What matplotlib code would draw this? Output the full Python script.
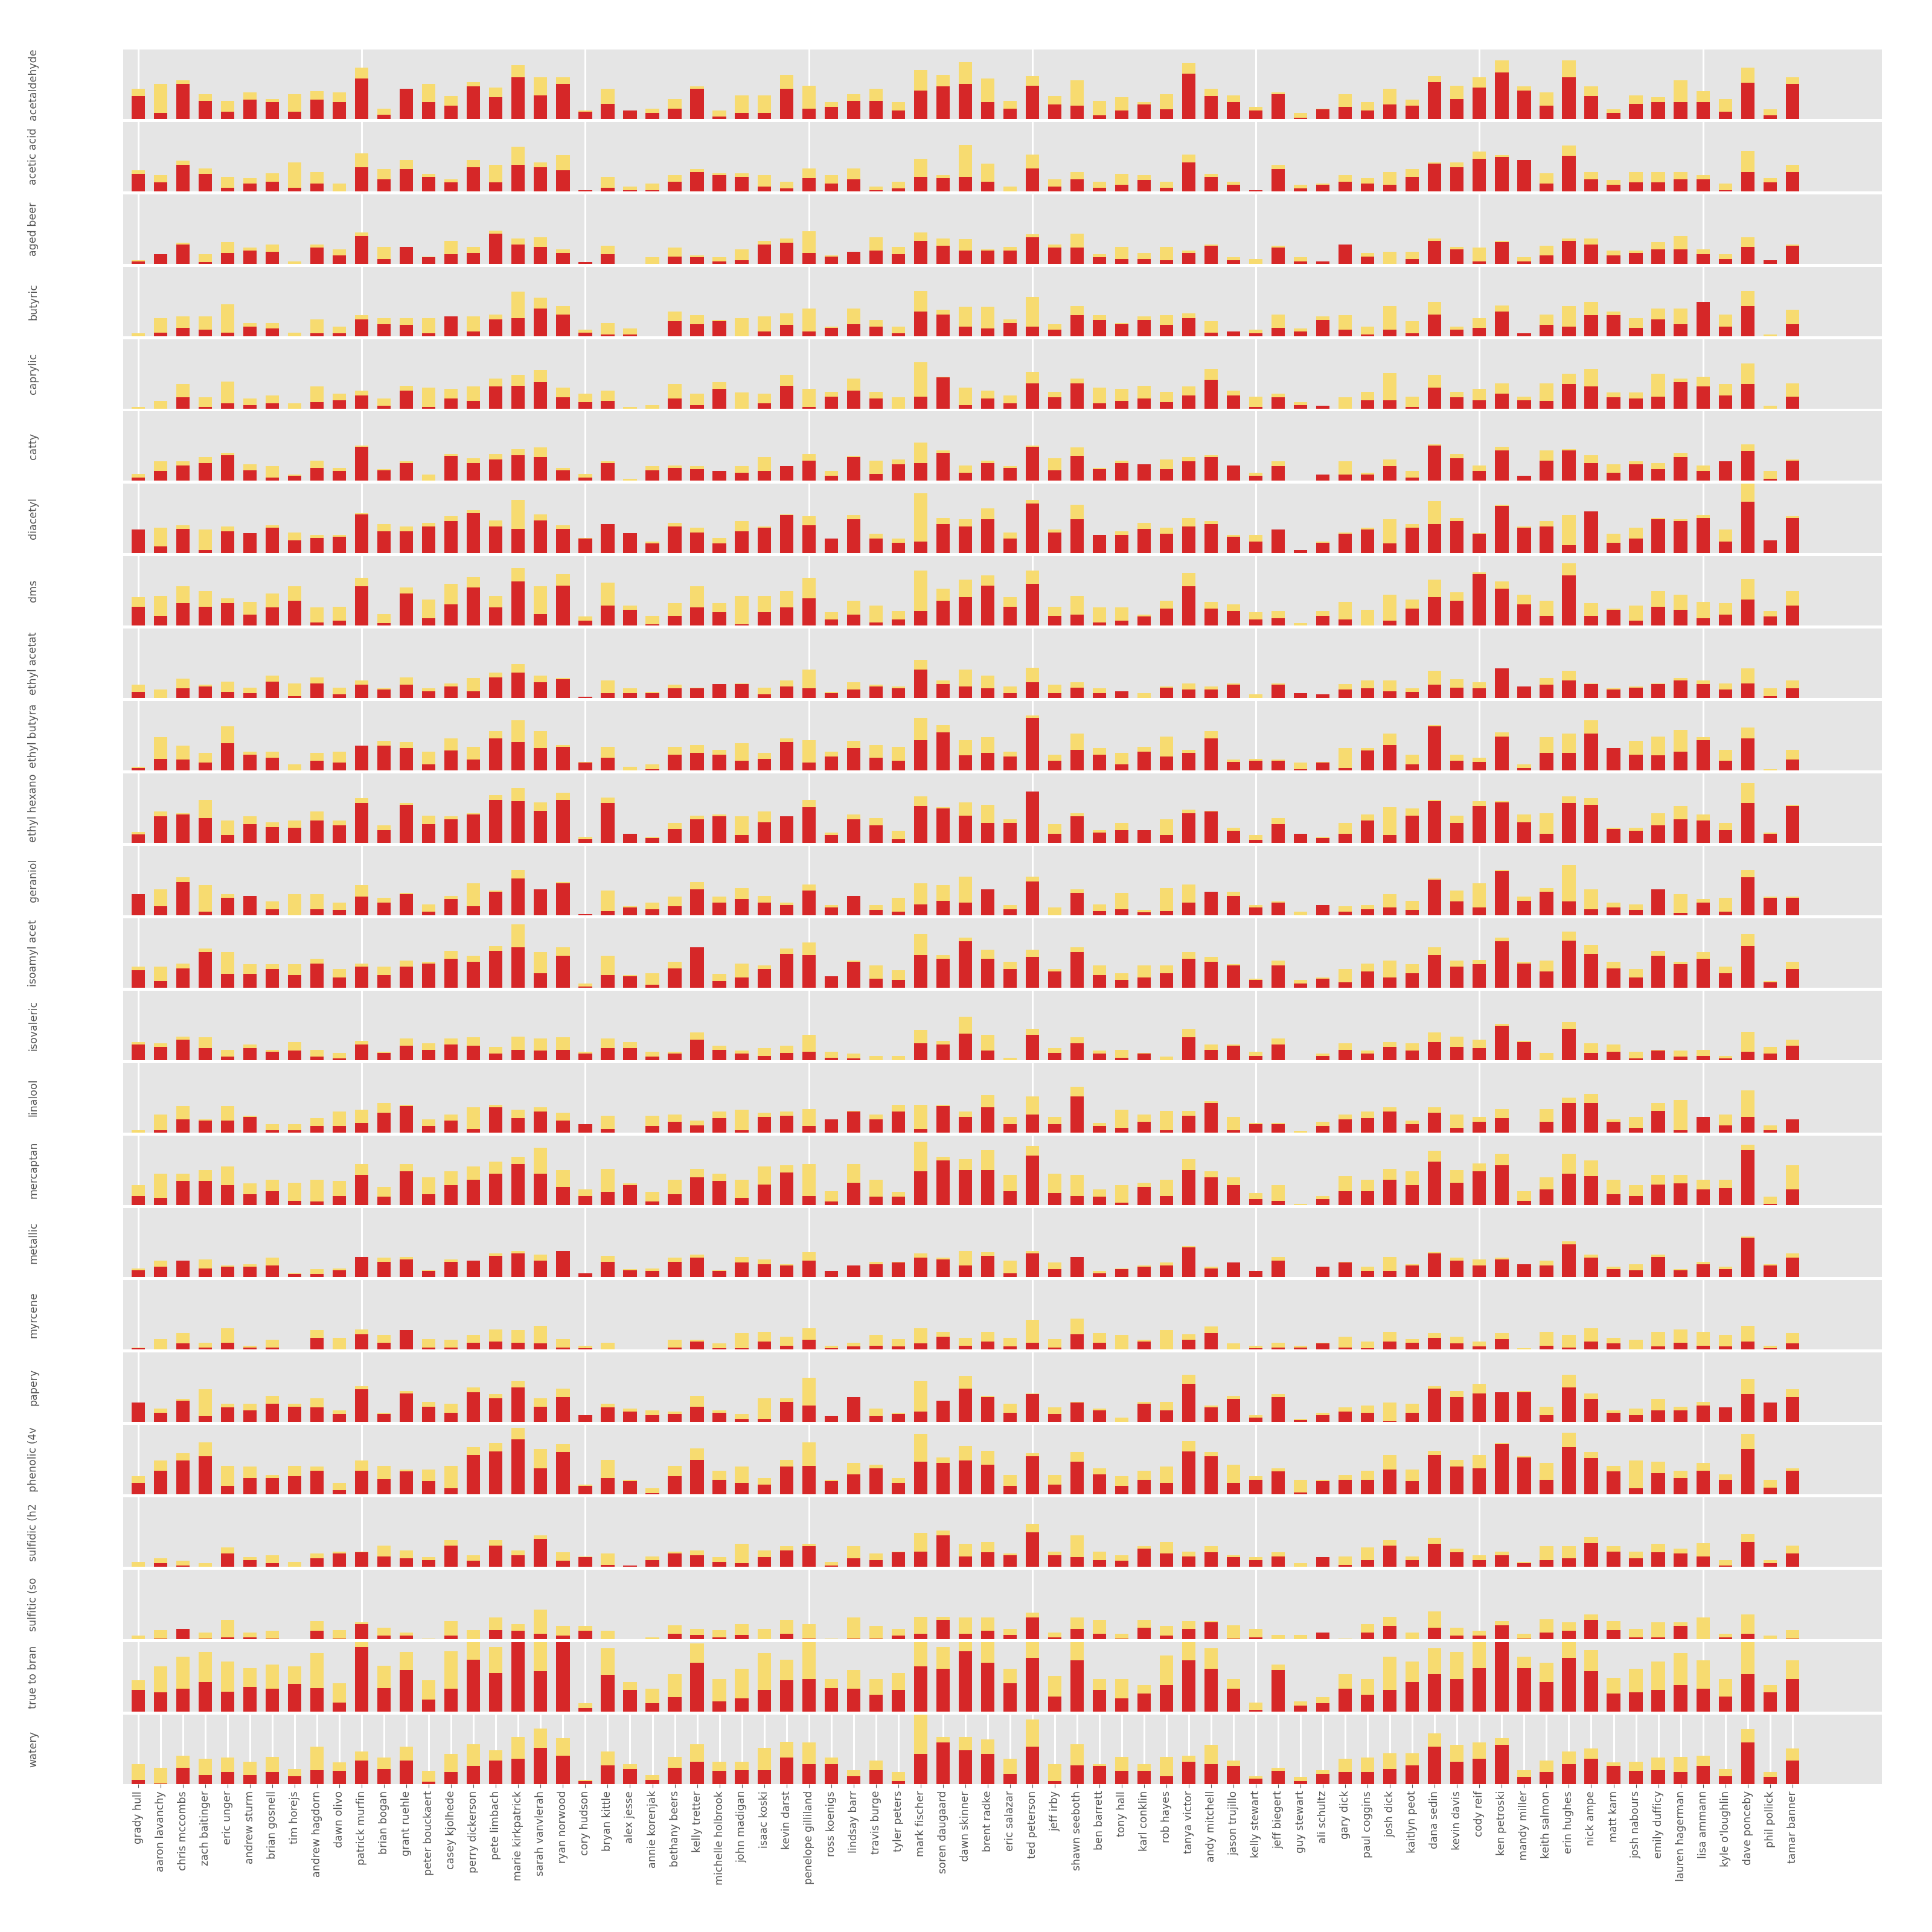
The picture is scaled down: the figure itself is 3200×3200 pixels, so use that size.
import numpy as np
import matplotlib
matplotlib.use("Agg")
import matplotlib.pyplot as plt

people = ["grady hull", "aaron lavanchy", "chris mccombs", "zach baitinger", "eric unger",
          "andrew sturm", "brian gosnell", "tim horejs", "andrew hagdorn", "dawn olivo",
          "patrick murfin", "brian bogan", "grant ruehle", "peter bouckaert", "casey kjolhede",
          "perry dickerson", "pete limbach", "marie kirkpatrick", "sarah vanvlerah", "ryan norwood",
          "cory hudson", "bryan kittle", "alex jesse", "annie korenjak", "bethany beers",
          "kelly tretter", "michelle holbrook", "john madigan", "isaac koski", "kevin darst",
          "penelope gilliland", "ross koenigs", "lindsay barr", "travis burge", "tyler peters",
          "mark fischer", "soren daugaard", "dawn skinner", "brent radke", "eric salazar",
          "ted peterson", "jeff irby", "shawn seeboth", "ben barrett", "tony hall",
          "karl conklin", "rob hayes", "tanya victor", "andy mitchell", "jason trujillo",
          "kelly stewart", "jeff biegert", "guy stewart", "ali schultz", "gary dick",
          "paul coggins", "josh dick", "kaitlyn peot", "dana sedin", "kevin davis",
          "cody reif", "ken petroski", "mandy miller", "keith salmon", "erin hughes",
          "nick ampe", "matt karn", "josh nabours", "emily dufficy", "lauren hagerman",
          "lisa ammann", "kyle o'loughlin", "dave ponceby", "phil pollick", "tamar banner"]

attributes = ["acetaldehyde", "acetic acid", "aged beer", "butyric", "caprylic", "catty",
              "diacetyl", "dms", "ethyl acetat", "ethyl butyra", "ethyl hexano", "geraniol",
              "isoamyl acet", "isovaleric", "linalool", "mercaptan", "metallic", "myrcene",
              "papery", "phenolic (4v", "sulfidic (h2", "sulfitic (so", "true to bran", "watery"]

# red = front bar value, yellow = back bar value (same axis scale)
acetaldehyde_red = [3.3,0.9,5.0,2.6,1.0,2.8,2.4,1.0,2.8,2.4, 5.8,0.6,4.3,2.4,1.9,4.7,3.1,6.0,3.4,5.0, 1.0,2.2,1.2,0.9,1.5,4.3,0.3,0.9,0.9,4.3, 1.5,1.7,2.6,2.6,1.2,4.1,4.7,5.0,2.4,1.5, 4.8,2.1,1.9,0.5,1.2,2.1,1.4,6.5,3.3,2.4, 1.2,3.6,0.2,1.4,1.7,1.2,2.1,1.9,5.3,2.9, 4.5,6.7,4.1,1.9,6.0,3.3,0.9,2.2,2.4,2.4, 2.4,1.0,5.2,0.5,5.0]
acetaldehyde_yellow = [4.3,5.0,5.6,3.6,2.6,3.8,2.9,3.6,4.0,3.8, 7.4,1.5,4.3,5.0,3.3,5.3,4.5,7.7,6.0,6.0, 1.2,4.3,1.2,1.5,2.9,4.7,1.2,3.4,3.4,6.3, 4.8,2.4,3.6,4.3,2.4,7.0,6.3,8.2,5.8,2.6, 6.2,3.3,5.6,2.6,3.1,2.4,3.6,8.1,4.3,3.4, 1.7,3.8,0.9,1.5,3.6,2.4,4.3,2.8,6.2,4.8, 6.0,8.4,4.7,3.8,8.4,4.7,1.4,3.4,3.1,5.6, 4.0,2.9,7.4,1.4,6.0]

acetic_red = [2.5,1.3,3.8,2.5,0.5,1.1,1.4,0.5,1.1,0, 3.5,1.7,3.2,2.1,1.3,3.5,1.3,3.8,3.5,3.0, 0.2,0.5,0.2,0.2,1.4,2.8,2.3,2.1,0.7,0.4, 1.9,1.1,1.7,0.2,0.4,2.1,1.9,2.1,1.4,0, 3.3,0.7,1.7,0.5,0.9,1.6,0.5,4.2,2.1,0.9, 0.2,3.2,0.4,0.9,1.4,1.1,0.9,2.1,4.0,3.5, 4.7,4.9,4.5,1.1,5.1,1.7,0.9,1.3,1.3,1.7, 1.7,0.2,2.8,1.3,2.8]
acetic_yellow = [3.0,2.3,4.4,3.3,2.1,1.9,2.6,4.2,2.8,1.1, 5.5,3.2,4.5,2.5,1.7,4.5,3.8,6.4,4.2,5.2, 0.2,2.1,0.7,1.1,2.3,3.2,2.6,2.6,2.3,1.4, 3.3,2.3,3.3,0.7,1.4,4.7,2.3,6.7,4.0,0.7, 5.3,1.7,2.8,1.4,2.5,2.3,1.4,5.3,2.5,1.4, 0.2,3.8,0.9,1.1,2.3,1.9,2.8,3.2,4.2,4.2, 5.7,5.2,4.5,2.6,6.6,2.8,1.6,2.8,2.8,2.8, 2.3,1.1,5.8,1.9,3.8]

aged_red = [0.3,1.4,2.8,0.2,1.5,1.9,1.7,0,2.3,1.2, 4.0,0.7,2.4,0.9,1.4,1.5,4.3,2.8,2.4,1.5, 0.2,1.4,0,0,1.0,0.9,0.3,0.5,2.8,3.0, 1.5,1.0,1.7,1.9,1.4,3.3,2.6,1.9,1.9,1.9, 3.8,2.3,2.3,0.9,0.7,0.7,0.5,1.5,2.6,0.5, 0,2.3,0.3,0.3,2.8,1.0,0,0.7,3.3,2.1, 0.3,3.1,0.3,1.2,3.3,2.8,1.2,1.5,2.1,2.1, 1.4,0.7,2.4,0.5,2.6]
aged_yellow = [0.5,1.4,3.0,1.4,3.1,2.3,2.8,0.3,2.8,2.1, 4.5,2.4,2.4,1.0,3.3,2.4,4.8,3.6,3.8,2.1, 0.2,2.6,0,0.9,2.3,1.2,0.9,2.1,3.3,3.6, 4.7,1.2,1.7,3.8,2.4,4.5,3.6,3.5,2.1,2.4, 4.2,2.8,4.3,1.4,2.4,1.5,2.4,1.9,2.8,0.9, 0.7,2.6,0.9,0.3,2.8,1.5,1.7,1.7,3.6,2.4, 2.3,3.3,0.9,2.6,3.6,3.6,1.9,1.9,3.1,4.0, 2.1,1.4,3.8,0.5,2.8]

butyric_red = [0,0.5,1.2,0.9,0.5,1.4,1.1,0,0.4,0.4, 2.4,1.7,1.6,0.4,2.8,0.7,2.4,2.6,4.0,3.1, 0.5,0.2,0.2,0,2.1,1.7,2.1,0,0.7,1.6, 0.7,1.2,1.7,1.4,0.4,3.5,3.1,1.4,1.1,1.9, 1.4,0.9,3.0,2.3,1.7,2.3,1.6,2.6,0.5,0.7, 0.4,1.2,0.7,2.3,0.9,0.2,0.9,0.4,3.1,0.9, 1.2,3.5,0.4,1.6,1.4,3.0,3.0,1.2,2.4,1.7, 4.9,1.4,4.3,0,1.7]
butyric_yellow = [0.4,2.6,2.8,2.8,4.6,1.9,1.9,0.5,2.4,1.4, 3.0,2.6,2.6,2.6,2.8,2.8,3.1,6.4,5.5,4.3, 0.9,1.9,1.1,0,3.5,3.0,2.3,2.6,2.8,3.3, 4.0,1.4,4.0,2.3,1.4,6.5,3.8,4.2,4.2,2.4, 5.6,1.7,4.3,3.0,1.9,2.8,3.0,3.3,2.1,0.7, 0.9,3.1,1.1,2.8,3.0,1.4,4.3,2.1,4.9,1.4, 2.6,4.4,0.4,3.1,4.3,4.9,3.5,2.6,4.0,4.0, 4.9,3.1,6.5,0.2,3.8]

caprylic_red = [0,0,1.6,0.2,0.7,0.5,0.7,0,0.9,1.2, 1.9,0.4,2.6,0.2,1.4,1.1,3.2,3.3,3.8,1.6, 0.9,1.1,0,0,1.4,0.5,2.8,0,0.7,3.3, 0.2,1.7,2.6,1.4,0,1.7,4.5,0.5,1.4,0.7, 3.6,1.6,3.6,0.7,1.1,1.4,0.9,1.9,4.1,1.9, 0.2,1.6,0.5,0.4,0,1.2,1.2,0.2,3.0,1.6, 1.2,2.1,1.2,1.1,3.5,3.2,1.6,1.4,1.7,3.8, 3.2,1.9,3.5,0,1.7]
caprylic_yellow = [0.2,1.1,3.5,1.6,3.9,1.4,1.9,0.7,3.2,2.1, 2.6,1.4,3.3,3.0,2.8,3.2,4.3,4.8,5.5,3.0, 2.1,2.6,0.2,0.5,3.5,2.1,3.8,2.3,2.1,4.8, 2.8,2.4,4.3,2.4,1.6,6.7,4.6,3.0,2.6,1.9, 5.3,2.4,4.3,3.0,2.8,3.3,2.4,3.2,5.7,2.6, 1.7,2.1,0.9,0.4,1.6,2.4,5.1,1.7,4.8,2.4, 2.8,3.6,1.7,3.6,5.0,5.7,2.3,2.3,5.0,4.3, 4.6,3.5,6.5,0.4,3.6]

catty_red = [0.5,1.4,2.2,2.6,3.7,1.5,0.5,0.7,1.9,1.4, 4.9,1.5,2.6,0,3.6,2.6,3.1,3.7,3.4,1.5, 0.5,2.6,0,1.5,1.9,1.7,1.4,1.2,1.4,2.1, 2.9,0.7,3.4,1.0,2.4,2.6,4.0,1.2,2.6,1.9, 4.9,1.5,3.6,1.7,2.6,2.4,1.7,2.8,3.4,2.2, 0.7,2.1,0,0.9,0.9,0.9,2.1,0.5,5.1,3.3, 1.4,4.4,0.7,2.9,4.4,2.6,1.2,2.4,1.7,3.4, 1.4,2.8,4.3,0.3,2.9]
catty_yellow = [1.0,2.8,2.8,3.4,4.0,2.4,2.1,0.9,2.9,1.9, 5.1,1.7,2.8,0.9,3.9,3.3,3.9,4.6,4.8,1.9, 1.0,2.8,0.3,2.1,2.2,2.1,1.4,2.1,3.4,2.1, 3.9,1.4,3.6,2.9,3.1,5.5,4.4,2.2,2.9,2.1, 5.1,3.3,4.8,1.9,2.9,2.4,3.1,3.4,3.7,2.2, 1.2,2.8,0,0.9,2.8,1.2,3.1,1.4,5.3,3.9, 2.2,4.9,0.7,4.4,4.6,3.7,2.4,2.8,2.6,4.0, 2.2,2.8,5.3,1.4,3.1]

diacetyl_red = [3.4,1.0,3.5,0.5,3.2,2.9,3.7,1.9,2.2,2.4, 5.6,3.2,3.2,3.9,4.6,5.8,3.9,3.5,4.7,3.5, 2.1,4.2,2.9,1.4,3.9,3.0,1.4,3.2,3.7,5.5, 4.0,2.1,4.9,2.1,1.5,1.7,4.2,3.9,4.9,2.1, 7.2,3.0,4.9,2.6,2.6,3.5,2.8,3.9,4.2,2.4, 1.7,3.4,0.5,1.5,2.8,3.4,1.4,3.7,4.2,4.6, 2.8,6.8,3.7,3.9,1.2,6.0,1.5,2.1,4.9,4.6, 5.1,1.7,7.4,1.9,5.1]
diacetyl_yellow = [3.4,3.7,4.0,3.4,3.9,2.9,4.0,3.0,2.6,2.6, 5.8,4.2,3.9,4.4,5.3,6.2,4.7,7.7,5.6,4.0, 2.2,4.2,2.9,1.7,4.4,3.7,2.2,4.6,3.9,5.6, 5.3,2.1,5.5,2.8,2.1,8.6,5.1,4.9,6.5,3.0, 7.7,3.4,7.0,2.6,3.2,4.4,3.7,5.1,4.6,2.6, 2.6,3.4,0.5,1.7,3.0,3.7,4.9,4.2,7.5,5.1, 2.9,7.0,3.9,4.6,5.5,6.0,2.8,3.7,5.1,4.9, 5.5,3.4,10.3,1.9,5.3]

dms_red = [2.7,1.4,3.2,2.7,3.2,1.6,2.6,3.6,0.5,0.7, 5.7,0.4,4.6,1.1,3.1,5.5,2.6,6.4,1.7,5.8, 0.7,2.9,2.3,0.2,1.4,2.6,1.9,0.2,1.9,2.6, 3.9,0.9,1.6,0.5,0.9,2.1,3.6,4.1,5.8,2.7, 6.0,1.4,1.6,0.5,0.7,1.3,2.5,5.7,2.5,2.1, 0.9,1.1,0,1.4,0.9,0,0.7,2.5,4.1,3.6, 7.4,5.3,3.1,1.4,7.2,1.4,2.3,0.7,2.7,2.3, 1.1,1.6,3.8,1.3,2.9]
dms_yellow = [4.1,4.3,5.7,5.0,3.9,3.4,4.6,5.7,2.6,2.7, 6.9,1.7,5.5,3.8,6.0,7.0,4.3,8.3,5.7,7.4, 1.3,6.2,2.9,1.4,3.2,5.7,3.2,4.3,4.3,5.0, 6.9,1.9,3.6,2.9,2.1,7.9,5.3,6.6,7.2,4.1, 7.9,2.7,4.3,2.6,2.6,1.6,3.6,7.6,3.4,3.1, 1.9,2.1,0.4,2.1,3.4,2.3,4.5,3.8,6.6,4.8, 7.7,6.4,4.5,3.6,9.0,3.2,2.5,2.9,5.0,4.5, 3.4,3.2,6.7,2.1,5.0]

ethyl_acetate_red = [0.9,0,1.4,1.7,0.9,0.7,2.4,0.3,2.1,0.5, 1.9,1.2,1.9,1.0,1.7,1.0,3.0,3.7,2.3,2.7, 0.2,0.7,0.7,0.7,1.4,1.4,2.0,2.0,0.5,1.7, 1.4,0.7,1.2,1.7,1.4,4.1,2.0,1.7,1.4,0.7, 2.3,0.7,1.5,0.7,1.0,0,1.5,1.2,1.2,1.9, 0,1.9,0.7,0.5,1.2,1.4,1.0,0.9,1.9,1.5, 1.4,4.3,1.7,1.9,2.5,2.0,1.2,1.5,2.0,2.5, 2.0,1.2,2.1,0.3,1.4]
ethyl_acetate_yellow = [1.9,1.2,2.8,1.9,2.4,1.5,3.2,2.1,3.0,1.5, 2.5,1.4,3.0,1.4,2.1,2.9,3.7,4.9,3.2,2.9, 0.2,2.5,1.4,0.9,1.9,1.5,2.0,2.1,1.5,2.5, 4.1,0.9,2.3,1.9,1.7,5.5,2.5,4.1,3.2,1.7, 4.4,1.9,2.3,1.4,1.0,0.7,1.7,2.1,1.7,2.1, 0.5,2.1,0.7,0.5,2.0,2.5,2.5,1.4,3.9,2.7, 2.3,4.3,1.7,2.9,3.9,2.1,1.4,1.7,2.1,2.9, 2.5,2.1,4.3,1.4,2.5]

ethyl_butyrate_red = [0.4,1.7,1.6,1.1,3.9,2.3,1.8,0,1.4,1.1, 3.6,3.6,3.2,0.9,2.9,1.6,4.6,4.1,3.2,3.4, 1.1,1.8,0,0.2,2.3,2.5,2.3,1.4,1.7,4.1, 1.1,2.0,3.2,1.8,1.4,4.4,5.5,2.2,2.5,2.0, 7.6,1.4,3.0,2.3,0.9,2.7,2.0,2.5,4.6,1.2, 1.4,1.4,0.2,1.1,0.4,2.9,3.7,0.9,6.4,1.4, 1.2,4.9,0.4,2.5,2.5,5.3,3.2,2.3,2.2,2.7, 4.4,1.4,4.6,0,1.6]
ethyl_butyrate_yellow = [0.5,4.8,3.6,2.5,6.4,2.7,2.7,0.9,2.5,2.7, 3.6,4.3,4.1,2.7,4.6,3.4,5.7,7.2,5.7,3.7, 1.2,3.4,0.5,0.9,3.4,3.7,3.0,3.9,2.5,4.6, 4.4,2.7,4.3,3.7,3.4,7.6,6.5,4.4,4.8,2.7, 7.9,2.3,5.3,3.2,2.5,3.4,4.9,3.0,5.7,1.6, 1.7,1.6,1.1,1.2,3.2,3.2,5.3,2.3,6.5,2.3, 1.8,5.5,0.9,4.8,5.3,7.2,3.2,4.3,4.9,5.8, 4.8,3.0,6.2,0.2,3.0]

ethyl_hexanoate_red = [1.2,3.8,4.1,3.6,1.1,2.7,2.3,2.2,3.2,2.5, 5.7,1.8,5.5,2.7,3.4,4.1,6.2,6.0,4.6,6.2, 0.5,5.7,1.3,0.7,2.0,3.4,3.8,1.1,3.0,3.8, 5.1,1.1,3.4,2.5,0.5,5.3,5.0,3.9,2.9,2.9, 7.4,1.3,3.8,1.5,1.8,1.8,1.1,4.3,4.5,1.7, 0.4,2.7,1.3,0.7,1.3,3.2,1.1,3.9,6.0,2.9, 5.3,5.8,3.0,1.3,5.7,5.5,2.0,1.7,2.5,3.4, 3.2,1.8,5.7,1.3,5.3]
ethyl_hexanoate_yellow = [1.6,4.5,4.3,6.2,3.2,3.8,3.0,3.2,4.5,3.2, 6.4,2.5,5.7,3.9,3.8,4.3,6.9,7.9,5.8,7.2, 0.9,6.5,1.3,0.9,2.9,3.9,4.1,3.8,4.5,3.8, 6.2,1.5,4.1,3.6,1.7,6.7,5.1,5.8,5.5,3.4, 7.4,2.7,4.3,1.8,2.9,1.8,3.4,4.8,4.6,2.2, 1.1,3.6,1.3,0.9,2.9,4.1,5.1,5.0,6.2,3.9, 6.0,6.0,4.1,4.3,6.7,6.4,2.2,2.2,4.3,5.3, 4.1,2.9,8.6,1.5,5.5]

geraniol_red = [3.0,1.3,4.8,0.5,2.5,2.8,0.9,0,0.9,0.8, 2.7,1.8,3.0,0.5,2.3,1.3,3.4,5.3,3.7,4.6, 0.2,0.6,1.1,0.9,1.3,3.7,1.8,2.3,1.8,1.5, 3.6,1.1,2.8,0.8,0.5,1.6,2.1,1.8,3.7,0.9, 4.9,0,3.2,0.6,0.9,0.4,0.6,1.8,3.4,2.8, 1.1,1.8,0,1.5,0.5,0.9,1.1,0.8,5.1,2.0, 1.1,6.3,2.1,3.4,2.0,0.9,1.1,0.8,3.7,0.3, 1.8,0.5,5.5,2.5,2.5]
geraniol_yellow = [3.0,3.7,5.5,4.3,3.0,2.8,2.0,3.0,3.0,1.8, 4.3,2.5,3.2,1.6,2.8,4.6,3.6,6.5,3.7,4.8, 0.2,3.6,1.3,1.8,2.7,4.8,2.7,3.9,2.8,1.8, 4.4,1.5,2.8,1.5,2.5,4.6,4.3,5.6,3.7,1.5, 5.6,1.1,3.7,1.6,3.2,0.8,3.9,4.4,3.4,3.4, 1.5,2.0,0.5,1.5,1.3,1.5,3.0,2.1,5.3,3.6, 4.6,6.5,2.7,3.9,7.2,3.7,1.8,1.6,3.7,3.0, 2.3,2.5,6.5,2.7,2.7]

isoamyl_red = [2.5,0.9,2.8,5.1,2.0,2.0,2.7,1.8,3.5,1.5, 3.0,1.8,3.0,3.5,4.2,3.7,5.3,5.8,2.1,4.6, 0.2,1.8,1.6,0.4,2.8,5.8,0.9,1.5,2.7,4.9, 4.7,1.6,3.7,1.3,1.1,4.7,4.2,6.7,4.2,2.7, 4.4,2.3,5.1,1.8,1.1,1.5,2.1,4.2,3.7,3.2, 1.1,3.2,0.6,1.3,0.8,2.3,1.5,2.1,4.7,3.0, 3.4,6.7,3.5,2.3,6.8,4.9,2.8,1.5,4.6,3.4, 4.2,2.1,6.0,0.8,2.7]
isoamyl_yellow = [3.0,3.0,3.5,5.6,5.1,3.4,3.4,3.4,4.2,2.7, 3.5,3.0,3.9,3.7,5.3,4.6,6.0,9.1,5.1,5.8, 0.6,4.6,1.8,2.1,3.7,5.8,2.0,3.5,3.2,5.6, 6.5,1.6,3.9,3.2,2.5,7.7,4.7,7.2,5.5,3.7, 5.5,2.7,5.8,3.2,2.1,3.2,3.2,5.1,4.4,3.4, 1.3,3.9,1.1,1.5,2.7,3.5,3.9,3.4,5.8,3.9, 4.0,7.2,3.7,3.9,8.1,6.2,3.7,2.7,5.3,3.7, 5.1,3.0,7.7,0.9,3.7]

isovaleric_red = [2.2,1.9,2.9,1.7,0.5,1.7,1.2,1.4,0.5,0.2, 2.2,1.0,2.1,1.5,2.2,2.1,0.9,1.5,1.4,1.5, 0.9,1.7,1.7,0.5,0.9,2.9,1.5,0.9,0.6,1.0, 1.2,0.3,0.2,0,0,2.4,2.2,3.8,1.4,0, 3.6,1.0,2.4,0.9,0.3,0.9,0,3.3,1.5,2.1, 0.6,2.2,0,0.6,1.5,0.9,1.9,1.4,2.6,1.9, 1.7,4.9,2.6,0,4.5,1.0,1.2,0.2,1.4,0.5, 0.6,0.2,1.2,0.9,2.1]
isovaleric_yellow = [2.6,2.4,3.4,3.3,1.5,2.2,1.5,2.6,1.5,1.0, 2.8,1.2,3.1,2.4,3.1,3.3,1.9,3.4,3.1,3.3, 1.2,3.1,2.6,1.2,1.2,4.0,2.1,1.4,1.7,2.1, 3.6,1.2,0.9,0.6,0.6,4.3,2.8,6.2,3.6,0.3, 4.5,1.7,3.3,1.4,1.5,1.0,0.5,4.5,2.2,2.2, 1.2,3.1,0,0.9,2.4,1.4,2.6,2.4,4.0,3.4, 2.9,5.2,2.8,1.0,5.5,2.4,2.2,1.2,1.5,1.4, 1.5,0.6,4.1,1.9,2.9]

linalool_red = [0,0.3,1.9,1.7,1.7,2.2,0.3,0.3,0.9,0.9, 1.4,2.8,3.8,0.9,1.7,0.5,3.6,2.1,3.0,1.7, 1.2,0.5,0,0.9,1.5,1.0,2.1,0.3,2.2,2.4, 0.9,1.9,3.0,1.9,3.0,0.5,3.8,2.2,3.6,1.2, 2.6,1.2,5.2,0.9,0.7,1.5,0.3,2.4,4.2,0.3, 1.2,1.2,0,0.9,1.9,2.1,3.0,1.2,2.8,0.7, 1.5,2.1,0,1.5,4.2,4.2,1.5,0.7,3.1,0.3, 2.2,1.0,2.2,0.3,1.9]
linalool_yellow = [0.3,2.6,3.8,1.9,3.8,2.4,1.2,1.2,2.1,3.0, 3.3,4.2,4.0,1.9,2.6,3.6,4.0,3.3,3.6,2.8, 1.2,2.4,0,2.4,2.6,1.7,3.0,3.3,2.8,3.0, 3.4,1.9,3.1,2.6,4.0,4.0,4.0,3.0,5.4,2.2, 5.2,2.2,6.6,1.4,3.3,2.6,3.1,3.1,4.5,2.2, 1.4,1.4,0.2,1.5,2.6,3.0,3.6,1.7,3.6,2.6, 2.2,3.4,0,3.4,5.0,5.5,1.9,2.2,4.2,4.7, 2.2,2.6,6.1,1.0,1.9]

mercaptan_red = [1.3,1.0,3.4,3.4,2.8,1.5,2.0,0.6,0.5,1.3, 4.3,1.2,4.8,1.5,2.8,3.6,4.5,5.9,4.5,2.6, 1.3,1.9,2.8,0.5,1.5,4.0,3.4,1.0,2.9,4.7, 1.3,0.5,3.2,1.2,1.2,4.8,6.4,5.0,5.0,2.0, 7.1,1.7,1.3,1.2,0.3,2.6,1.3,5.0,4.0,2.8, 0.8,0.6,0,0.8,2.0,2.0,3.6,2.8,6.2,3.2, 4.8,5.7,0.6,2.2,4.5,4.1,1.5,1.3,2.9,3.1, 2.2,2.4,7.9,0.1,2.2]
mercaptan_yellow = [2.8,4.5,4.5,5.0,5.5,3.1,3.6,3.2,3.6,3.4, 5.9,2.6,5.9,4.0,4.8,5.5,6.2,6.9,8.2,5.0, 2.2,5.2,3.1,1.9,3.6,5.2,4.5,3.6,5.5,5.7, 5.9,2.0,5.9,3.6,1.9,9.1,6.9,6.6,7.9,4.3, 8.5,4.5,4.3,2.2,2.8,3.2,3.6,6.6,4.8,4.0, 1.7,2.8,0.1,1.3,4.1,3.6,5.2,4.8,7.8,5.0, 6.0,7.4,2.0,4.0,7.4,6.4,3.6,2.8,4.3,4.3, 3.6,3.6,8.7,1.2,5.7]

metallic_red = [1.0,1.5,2.4,1.3,1.5,1.5,1.7,0.5,0.5,1.0, 2.9,2.2,2.6,0.9,2.2,2.4,3.1,3.4,2.4,3.8, 0.6,2.2,1.0,0.9,2.2,2.8,0.9,2.1,1.9,1.7, 2.4,0.9,1.7,1.9,2.1,2.8,2.6,1.7,3.1,0.6, 3.4,1.2,2.9,0.6,1.2,1.5,1.7,4.3,1.3,2.1, 0.9,2.4,0,1.5,2.1,0.9,0.9,1.7,3.4,2.4, 1.7,2.6,1.9,1.7,4.7,2.8,1.2,1.0,2.9,1.0, 1.9,1.2,5.7,1.7,2.8]
metallic_yellow = [1.3,2.4,2.4,2.6,1.7,1.9,2.8,0.6,1.2,1.3, 2.9,2.8,2.9,1.0,2.6,2.4,3.4,3.8,3.3,3.8, 0.6,3.1,1.2,1.3,2.8,3.3,1.0,2.9,2.6,1.9, 3.6,0.9,1.7,2.2,2.2,3.4,2.8,3.8,3.6,2.4, 3.8,2.1,2.9,0.9,1.3,1.7,2.1,4.5,1.5,2.1, 0.9,2.9,0,1.5,2.2,1.5,2.9,1.9,3.6,2.8, 2.6,2.8,1.9,2.4,5.2,3.3,1.5,1.9,3.3,1.2, 2.2,1.5,5.9,1.9,3.4]

myrcene_red = [0.2,0,0.9,0.3,1.0,0.3,0.3,0,1.7,0, 2.2,1.0,2.8,0.3,0.3,1.0,1.2,1.0,0.9,0.3, 0.2,0,0,0,0.3,1.2,0.2,0.2,1.2,0.6, 1.4,0.2,0.5,0.6,0.5,0.9,1.9,0.6,1.2,0.5, 1.0,0.3,2.2,1.0,0,1.2,0,1.4,2.4,0, 0.2,0.3,0.3,0.9,0.3,0.2,1.2,1.0,1.7,0.9, 0.5,1.5,0,0.6,0.3,1.2,0.9,0,0.5,1.0, 0.6,0.5,1.2,0.2,0.9]
myrcene_yellow = [0.3,1.5,2.4,1.0,3.1,0.6,1.4,0,2.8,1.7, 2.9,2.1,2.8,1.5,1.4,2.1,2.9,2.8,3.4,1.5, 0.6,1.0,0,0,1.4,1.4,0.9,2.4,2.6,1.9, 3.1,0.6,1.0,2.1,1.5,3.1,2.6,1.7,2.6,1.7, 4.3,1.5,4.5,2.4,2.1,1.4,2.8,2.2,3.3,0.9, 0.6,1.0,0.6,1.0,1.9,1.2,2.6,1.5,2.4,1.9, 1.2,2.4,0.2,2.6,2.1,3.1,1.7,1.4,2.6,2.9, 2.6,2.1,3.4,0.6,2.4]

papery_red = [2.8,1.3,3.1,0.9,2.1,1.7,2.6,2.2,2.1,1.2, 4.7,1.2,4.1,2.2,1.3,4.3,3.4,5.0,2.2,3.6, 1.0,2.1,1.5,1.0,1.2,2.2,1.3,0.5,0.5,2.9, 2.4,0.9,3.6,0.9,1.2,1.5,3.1,4.8,3.6,1.3, 4.0,1.2,2.8,1.7,0,2.6,1.7,5.5,2.1,3.3, 0.6,3.6,0.3,1.0,1.5,1.3,0.1,1.3,4.8,3.6, 4.1,4.3,4.3,1.0,5.0,3.3,1.3,1.0,1.7,1.7, 2.4,2.1,4.0,2.8,3.6]
papery_yellow = [2.8,1.9,3.3,4.7,2.6,2.6,3.8,2.6,3.4,1.7, 5.2,1.3,4.5,2.9,2.6,5.0,4.0,5.9,3.4,4.8, 1.0,2.6,1.9,1.7,1.5,3.8,1.7,1.2,3.4,3.4, 6.4,0.9,3.6,1.9,1.3,5.9,3.1,6.6,3.8,2.6, 4.1,2.1,2.9,1.9,0.6,2.9,2.9,6.8,2.4,3.8, 1.0,4.0,0.5,1.3,2.1,2.4,2.8,2.6,5.2,4.5, 5.5,4.3,4.5,2.2,6.8,4.1,1.7,1.9,3.3,2.2, 2.9,2.1,6.2,2.8,4.7]

phenolic_red = [1.7,3.4,4.9,5.5,1.2,2.4,2.4,2.6,3.4,0.6, 3.4,2.2,3.3,1.9,0.9,5.7,6.2,7.9,3.8,6.1, 1.2,2.4,1.9,0.2,2.6,5.0,2.1,1.7,1.4,4.0, 4.1,1.9,2.9,3.8,1.7,4.7,4.5,4.9,4.3,1.2, 5.5,1.4,4.7,2.9,1.2,2.1,1.7,6.2,5.5,1.7, 2.1,3.3,0.3,1.9,2.1,2.1,3.6,1.9,5.7,4.0, 3.8,7.2,5.3,2.1,6.8,5.2,3.3,0.9,3.1,2.4, 3.4,2.1,6.5,1.0,3.4]
phenolic_yellow = [2.6,4.9,5.9,7.5,4.1,4.0,2.8,4.1,4.0,1.7, 4.9,4.1,3.6,3.6,4.1,6.8,7.4,9.6,6.5,7.2, 1.4,5.0,2.1,0.9,4.1,6.6,3.4,4.0,2.4,5.0, 7.5,2.1,4.5,4.3,2.4,8.7,5.3,7.0,6.3,2.8, 5.9,2.8,6.1,3.8,2.6,3.4,4.0,7.7,6.1,4.3, 2.6,3.8,2.1,2.1,2.8,3.4,5.7,3.6,6.3,5.0, 5.7,7.4,5.5,4.5,8.9,6.1,4.1,4.9,4.7,3.4, 4.5,2.9,8.7,2.1,3.8]

sulfidic_red = [0,0.5,0.2,0,1.9,1.0,0.5,0,1.2,1.9, 2.1,1.5,1.2,1.0,3.1,0.9,3.1,1.7,4.0,0.9, 1.4,0.3,0.2,1.0,1.9,1.7,0.7,0.5,1.4,2.4, 3.0,0.2,1.2,1.0,2.1,2.2,4.5,1.5,2.1,1.7, 5.0,1.7,1.4,1.0,0.9,2.6,1.9,1.5,2.1,1.4, 1.0,1.5,0,1.4,0.3,1.0,3.1,1.0,3.3,2.1, 1.0,1.7,0.5,1.0,1.2,3.4,2.2,1.2,2.1,1.9, 1.5,0.2,3.6,0.5,1.9]
sulfidic_yellow = [0.7,1.2,0.9,0.5,2.8,1.4,1.7,0.7,1.9,2.2, 2.2,3.1,2.4,1.4,3.8,1.7,3.8,2.4,4.5,2.1, 1.5,1.9,0.2,1.5,2.2,2.4,1.4,3.3,2.4,3.0, 3.3,0.7,3.0,1.9,2.2,4.9,5.2,3.3,3.6,1.9, 6.2,2.2,4.5,2.2,1.7,3.0,3.6,2.2,3.0,1.7, 1.4,2.1,0.5,1.4,1.5,2.8,3.8,1.5,4.2,2.6, 1.7,2.2,0.7,3.0,3.0,4.3,3.0,2.2,3.3,2.6, 3.4,1.0,4.7,1.0,3.1]

sulfitic_red = [0,0.1,1.5,0.1,0.3,0.3,0.1,0,1.2,0.1, 2.2,0.5,0.5,0,0.5,0,1.3,1.2,0.8,0.5, 1.2,0,0,0,0.8,0.6,0.3,0.6,0,0.8, 0.1,0,0.1,0.1,0.5,0.8,2.8,0.8,1.2,0.6, 3.1,0.3,1.5,0.8,0.1,1.7,0.5,1.5,2.4,0.1, 0.3,0,0,1.0,0,1.0,1.9,0,1.7,0.5, 0.5,2.0,0.1,1.0,1.2,2.8,1.3,0.3,0.3,1.9, 0,0.3,0.8,0,0.1]
sulfitic_yellow = [0.5,1.3,1.5,1.0,2.8,1.0,1.2,0,2.6,1.3, 2.4,1.7,1.0,0.1,2.6,1.3,3.1,2.2,4.3,1.9, 1.9,1.2,0,0.3,2.0,1.5,1.3,2.2,1.5,2.8, 2.2,0.1,3.1,1.9,1.5,3.2,3.2,3.1,3.1,1.5, 3.8,1.0,3.1,2.8,0.8,2.8,1.9,2.6,2.6,2.0, 1.5,0.6,0.6,1.0,0.1,2.2,3.2,1.0,4.0,1.7, 1.2,2.6,0.8,2.9,2.4,3.6,2.6,1.5,2.4,2.4, 3.1,0.8,3.6,0.5,1.3]

true_to_brand_red = [3.1,2.8,3.3,4.3,2.9,3.6,3.3,4.0,3.4,1.3, 9.3,3.4,6.0,1.7,3.3,7.5,5.6,10.8,5.8,10.4, 0.5,5.3,3.1,1.2,2.1,7.0,1.5,1.9,3.1,4.5, 4.7,3.4,3.3,2.4,3.1,6.5,6.2,8.7,7.0,4.1, 7.7,2.2,7.4,3.1,1.9,2.6,3.8,7.4,6.2,3.3, 0.3,6.0,0.9,1.2,3.3,2.4,3.1,4.3,5.4,4.7, 6.3,10.5,6.3,4.3,7.7,5.8,2.6,2.8,3.1,3.8, 3.3,2.2,5.4,2.8,4.7]
true_to_brand_yellow = [4.5,6.5,7.9,8.6,7.2,6.3,6.8,6.5,8.4,4.1, 10.3,6.6,8.6,4.5,8.7,10.6,9.3,11.5,10.8,10.4, 1.2,9.1,4.3,3.3,5.4,9.8,4.7,6.2,8.4,7.5, 10.4,4.7,6.0,4.7,5.6,10.6,9.3,10.5,10.6,6.2, 10.4,5.1,10.3,4.7,4.7,3.8,8.1,10.4,9.1,4.7, 1.3,6.8,1.5,2.1,5.4,4.7,7.9,7.2,9.1,8.6, 10.4,10.5,7.9,7.0,10.3,8.9,4.9,6.2,7.2,8.4, 7.4,4.7,10.6,3.8,7.4]

watery_red = [0.6,0.1,2.3,1.3,1.7,1.3,1.7,1.1,2.0,1.9, 3.4,2.2,3.4,0.3,1.7,2.6,3.4,3.6,5.2,4.1, 0.4,2.7,2.2,0.6,2.3,3.2,1.9,2.0,2.0,3.8, 2.9,2.9,1.1,2.0,0.4,4.3,6.0,4.9,4.3,1.5, 5.4,0.4,2.7,2.6,1.9,1.9,1.1,3.2,2.9,2.6, 0.8,1.9,0.4,1.5,1.7,1.7,2.2,2.7,5.4,3.2, 3.6,5.6,1.0,1.7,2.9,3.6,2.6,1.9,2.0,1.7, 2.6,1.1,6.0,1.0,3.4]
watery_yellow = [2.9,2.3,4.1,3.6,3.8,3.2,3.9,2.2,5.4,3.1, 4.7,3.8,5.4,1.9,4.3,5.7,4.9,6.8,8.0,6.6, 0.6,4.7,2.9,1.3,3.9,5.7,3.2,3.2,5.2,6.1, 6.0,3.8,2.0,3.4,1.7,10.3,6.8,6.8,6.4,3.6, 9.3,2.9,5.7,2.9,3.9,2.9,3.9,4.1,5.6,3.4, 1.1,2.3,1.0,2.0,3.6,3.8,4.4,4.4,7.3,5.6, 6.0,6.6,2.0,3.4,4.7,5.1,3.1,3.2,3.8,3.9, 4.1,2.2,7.9,1.7,5.1]

red_series = [acetaldehyde_red, acetic_red, aged_red, butyric_red, caprylic_red, catty_red,
              diacetyl_red, dms_red, ethyl_acetate_red, ethyl_butyrate_red, ethyl_hexanoate_red,
              geraniol_red, isoamyl_red, isovaleric_red, linalool_red, mercaptan_red, metallic_red,
              myrcene_red, papery_red, phenolic_red, sulfidic_red, sulfitic_red, true_to_brand_red,
              watery_red]
yellow_series = [acetaldehyde_yellow, acetic_yellow, aged_yellow, butyric_yellow, caprylic_yellow,
                 catty_yellow, diacetyl_yellow, dms_yellow, ethyl_acetate_yellow,
                 ethyl_butyrate_yellow, ethyl_hexanoate_yellow, geraniol_yellow, isoamyl_yellow,
                 isovaleric_yellow, linalool_yellow, mercaptan_yellow, metallic_yellow,
                 myrcene_yellow, papery_yellow, phenolic_yellow, sulfidic_yellow, sulfitic_yellow,
                 true_to_brand_yellow, watery_yellow]

RED = "#d62728"
YELLOW = "#f7db70"
GREY = "#555555"

plt.style.use("ggplot")
plt.rcParams["font.family"] = ["DejaVu Sans"]

fig, axes = plt.subplots(len(attributes), 1, figsize=(32, 32), dpi=100)
fig.subplots_adjust(left=0.0638, right=0.974, top=0.9744, bottom=0.0766, hspace=0.043)

n = len(people)
for i, (ax, name, rv, yv) in enumerate(zip(axes, attributes, red_series, yellow_series)):
    rv = np.asarray(rv, dtype=float)
    yv = np.asarray(yv, dtype=float)
    ax.bar(np.arange(len(yv)), yv, width=0.6, color=YELLOW, linewidth=0, zorder=2)
    ax.bar(np.arange(len(rv)), rv, width=0.6, color=RED, linewidth=0, zorder=3)
    ax.set_facecolor("#e5e5e5")
    ax.set_ylim(0, 10)
    ax.set_xlim(-0.67, 78)
    ax.set_yticks([])
    ax.grid(False, axis="y")
    ax.grid(True, axis="x", color="white", linewidth=2.2)
    ax.set_axisbelow(True)
    for s in ax.spines.values():
        s.set_visible(False)
    ax.set_ylabel(name, fontsize=12.5, color=GREY)
    ax.yaxis.set_label_coords(-0.048, 0.5)
    if i < len(attributes) - 1:
        ax.set_xticks(np.arange(0, 71, 10))
        ax.tick_params(axis="x", labelbottom=False, length=0)
    else:
        ax.set_xticks(np.arange(n))
        ax.set_xticklabels(people, rotation=90, fontsize=12.5, color=GREY)
        ax.tick_params(axis="x", length=4, color=GREY, pad=4)

fig.savefig("out.png", dpi=100, facecolor="white")
